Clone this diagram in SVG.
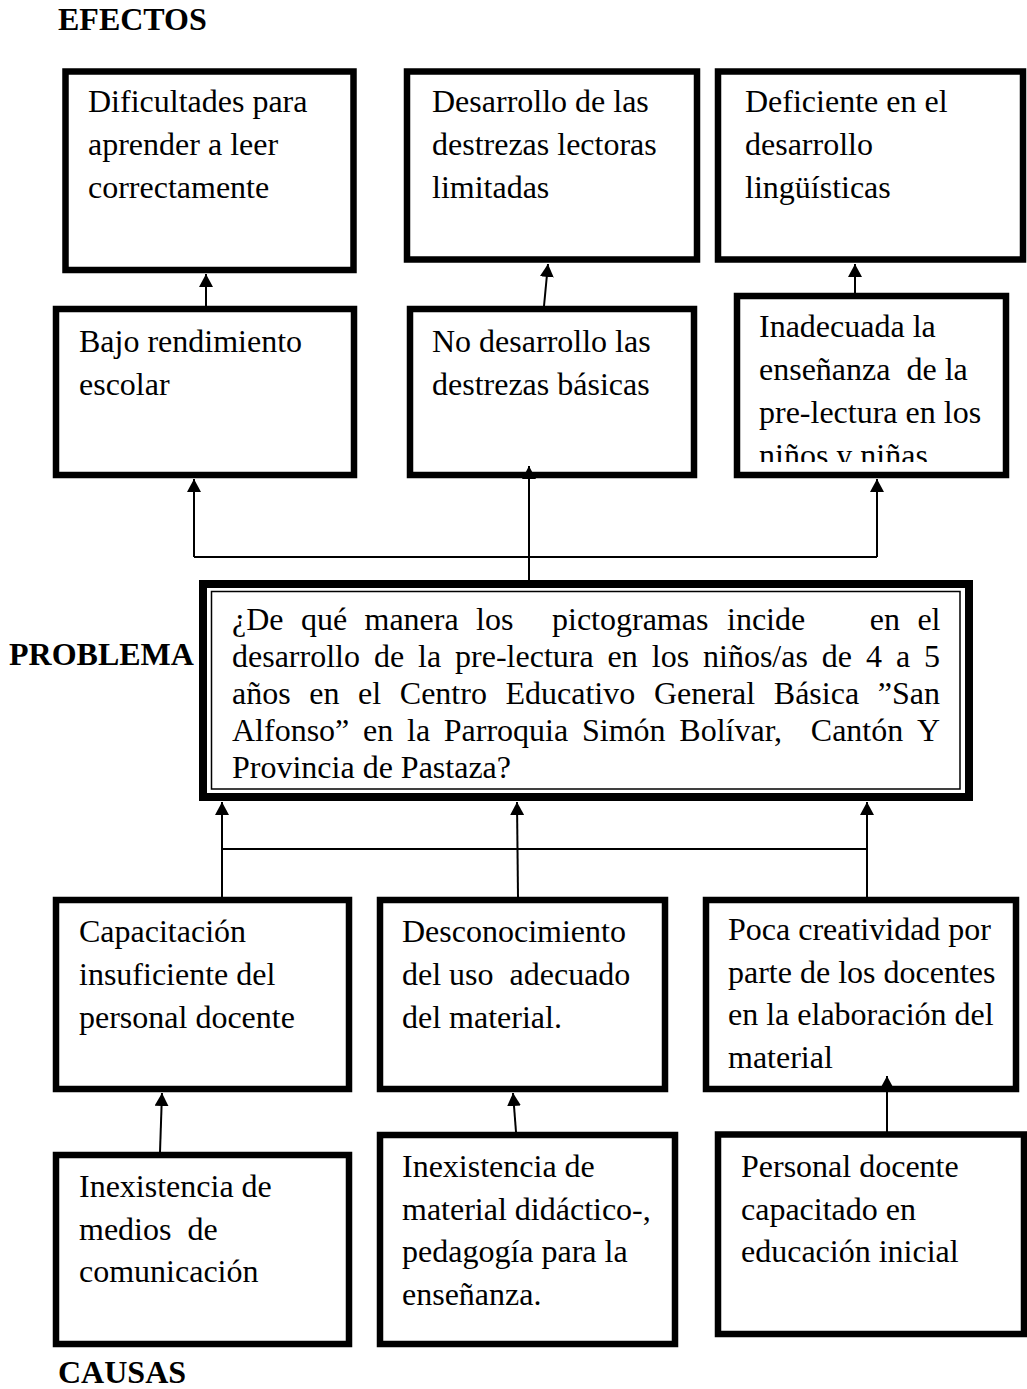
<svg xmlns="http://www.w3.org/2000/svg" width="1027" height="1389" viewBox="0 0 1027 1389">
<style>
.bg{fill:#fff}
.box{fill:#fff;stroke:#000;stroke-width:6.5}
.t{font-family:"Liberation Serif","Times New Roman",serif;font-size:32px;fill:#000}
.b{font-weight:bold}
.c{stroke:#000;stroke-width:2;fill:none}
.ca{stroke:#000;stroke-width:2;fill:none;marker-end:url(#ah)}
</style>
<defs>
<marker id="ah" markerUnits="userSpaceOnUse" markerWidth="14" markerHeight="14" refX="13" refY="7" orient="auto" viewBox="0 0 14 14">
<path d="M0,0 L13,7 L0,14 z" fill="#000"/>
</marker>
<clipPath id="clipF"><rect x="737" y="296" width="269" height="166"/></clipPath>
</defs>
<rect class="bg" x="0" y="0" width="1027" height="1389"/>

<g id="labels">
<text class="t b" x="58" y="30">EFECTOS</text>
<text class="t b" x="9" y="665">PROBLEMA</text>
<text class="t b" x="58" y="1383">CAUSAS</text>
</g>

<g id="efecto1">
<rect class="box" x="65.5" y="71.5" width="288" height="198.5"/>
<text class="t" x="88" y="112">Dificultades para</text>
<text class="t" x="88" y="155">aprender a leer</text>
<text class="t" x="88" y="198">correctamente</text>
</g>
<g id="efecto2">
<rect class="box" x="407" y="71.5" width="290" height="188"/>
<text class="t" x="432" y="112">Desarrollo de las</text>
<text class="t" x="432" y="155">destrezas lectoras</text>
<text class="t" x="432" y="198">limitadas</text>
</g>
<g id="efecto3">
<rect class="box" x="718" y="71.5" width="305" height="188"/>
<text class="t" x="745" y="112">Deficiente en el</text>
<text class="t" x="745" y="155">desarrollo</text>
<text class="t" x="745" y="198">lingüísticas</text>
</g>

<g id="efecto4">
<rect class="box" x="56" y="309" width="298" height="166"/>
<text class="t" x="79" y="352">Bajo rendimiento</text>
<text class="t" x="79" y="395">escolar</text>
</g>
<g id="efecto5">
<rect class="box" x="410" y="309" width="284" height="166"/>
<text class="t" x="432" y="352">No desarrollo las</text>
<text class="t" x="432" y="395">destrezas básicas</text>
</g>
<g id="efecto6">
<rect class="box" x="737" y="296" width="269" height="179"/>
<g clip-path="url(#clipF)">
<text class="t" x="759" y="337">Inadecuada la</text>
<text class="t" x="759" y="380" xml:space="preserve">enseñanza  de la</text>
<text class="t" x="759" y="423">pre-lectura en los</text>
<text class="t" x="759" y="466">niños y niñas</text>
</g>
</g>

<g id="problema">
<rect class="box" x="203" y="584" width="766" height="213" style="stroke-width:8"/>
<rect x="211.5" y="591.5" width="748.5" height="197.5" fill="none" stroke="#000" stroke-width="1.5"/>
<text class="t" y="630"><tspan x="232">¿De</tspan><tspan x="300.9">qué</tspan><tspan x="364.5">manera</tspan><tspan x="476.1">los</tspan><tspan x="552">pictogramas</tspan><tspan x="727">incide</tspan><tspan x="869.8">en</tspan><tspan x="917.4">el</tspan></text>
<text class="t" y="667"><tspan x="232">desarrollo</tspan><tspan x="373.9">de</tspan><tspan x="418.1">la</tspan><tspan x="455.1">pre-lectura</tspan><tspan x="607.6">en</tspan><tspan x="651.8">los</tspan><tspan x="703">niños/as</tspan><tspan x="821.8">de</tspan><tspan x="865.9">4</tspan><tspan x="895.9">a</tspan><tspan x="924">5</tspan></text>
<text class="t" y="704"><tspan x="232">años</tspan><tspan x="309.3">en</tspan><tspan x="358.1">el</tspan><tspan x="399.8">Centro</tspan><tspan x="505.5">Educativo</tspan><tspan x="653.9">General</tspan><tspan x="773.8">Básica</tspan><tspan x="877.7">”San</tspan></text>
<text class="t" y="741"><tspan x="232">Alfonso”</tspan><tspan x="363">en</tspan><tspan x="407">la</tspan><tspan x="443.8">Parroquia</tspan><tspan x="582">Simón</tspan><tspan x="679.3">Bolívar,</tspan><tspan x="810.8">Cantón</tspan><tspan x="917">Y</tspan></text>
<text class="t" x="232" y="778">Provincia de Pastaza?</text>
</g>

<g id="causa1">
<rect class="box" x="56" y="900" width="293" height="189"/>
<text class="t" x="79" y="942">Capacitación</text>
<text class="t" x="79" y="985">insuficiente del</text>
<text class="t" x="79" y="1028">personal docente</text>
</g>
<g id="causa2">
<rect class="box" x="380" y="900" width="285" height="189"/>
<text class="t" x="402" y="942">Desconocimiento</text>
<text class="t" x="402" y="985" xml:space="preserve">del uso  adecuado</text>
<text class="t" x="402" y="1028">del material.</text>
</g>
<g id="causa3">
<rect class="box" x="706" y="900" width="310" height="189"/>
<text class="t" x="728" y="940">Poca creatividad por</text>
<text class="t" x="728" y="983">parte de los docentes</text>
<text class="t" x="728" y="1025">en la elaboración del</text>
<text class="t" x="728" y="1068">material</text>
</g>

<g id="causa4">
<rect class="box" x="56" y="1155" width="293" height="189"/>
<text class="t" x="79" y="1197">Inexistencia de</text>
<text class="t" x="79" y="1240" xml:space="preserve">medios  de</text>
<text class="t" x="79" y="1282">comunicación</text>
</g>
<g id="causa5">
<rect class="box" x="380" y="1135" width="295" height="209"/>
<text class="t" x="402" y="1177">Inexistencia de</text>
<text class="t" x="402" y="1220">material didáctico-,</text>
<text class="t" x="402" y="1262">pedagogía para la</text>
<text class="t" x="402" y="1305">enseñanza.</text>
</g>
<g id="causa6">
<rect class="box" x="718" y="1134.5" width="306" height="199.5"/>
<text class="t" x="741" y="1177">Personal docente</text>
<text class="t" x="741" y="1220">capacitado en</text>
<text class="t" x="741" y="1262">educación inicial</text>
</g>

<g id="connectors">
<path class="ca" d="M206,306 L206,274"/>
<path class="ca" d="M544,306 L548,264"/>
<path class="ca" d="M855,293 L855,264"/>
<path class="c" d="M194,557 L877,557"/>
<path class="ca" d="M194,557 L194,479"/>
<path class="ca" d="M877,557 L877,479"/>
<path class="ca" d="M529,581 L529,466"/>
<path class="c" d="M222,849 L867,849"/>
<path class="ca" d="M222,897 L222,802"/>
<path class="ca" d="M518,897 L517,802"/>
<path class="ca" d="M867,897 L867,802"/>
<path class="ca" d="M160,1152 L162,1093"/>
<path class="ca" d="M516,1132 L513,1093"/>
<path class="ca" d="M887,1132 L887,1076"/>
</g>
</svg>
